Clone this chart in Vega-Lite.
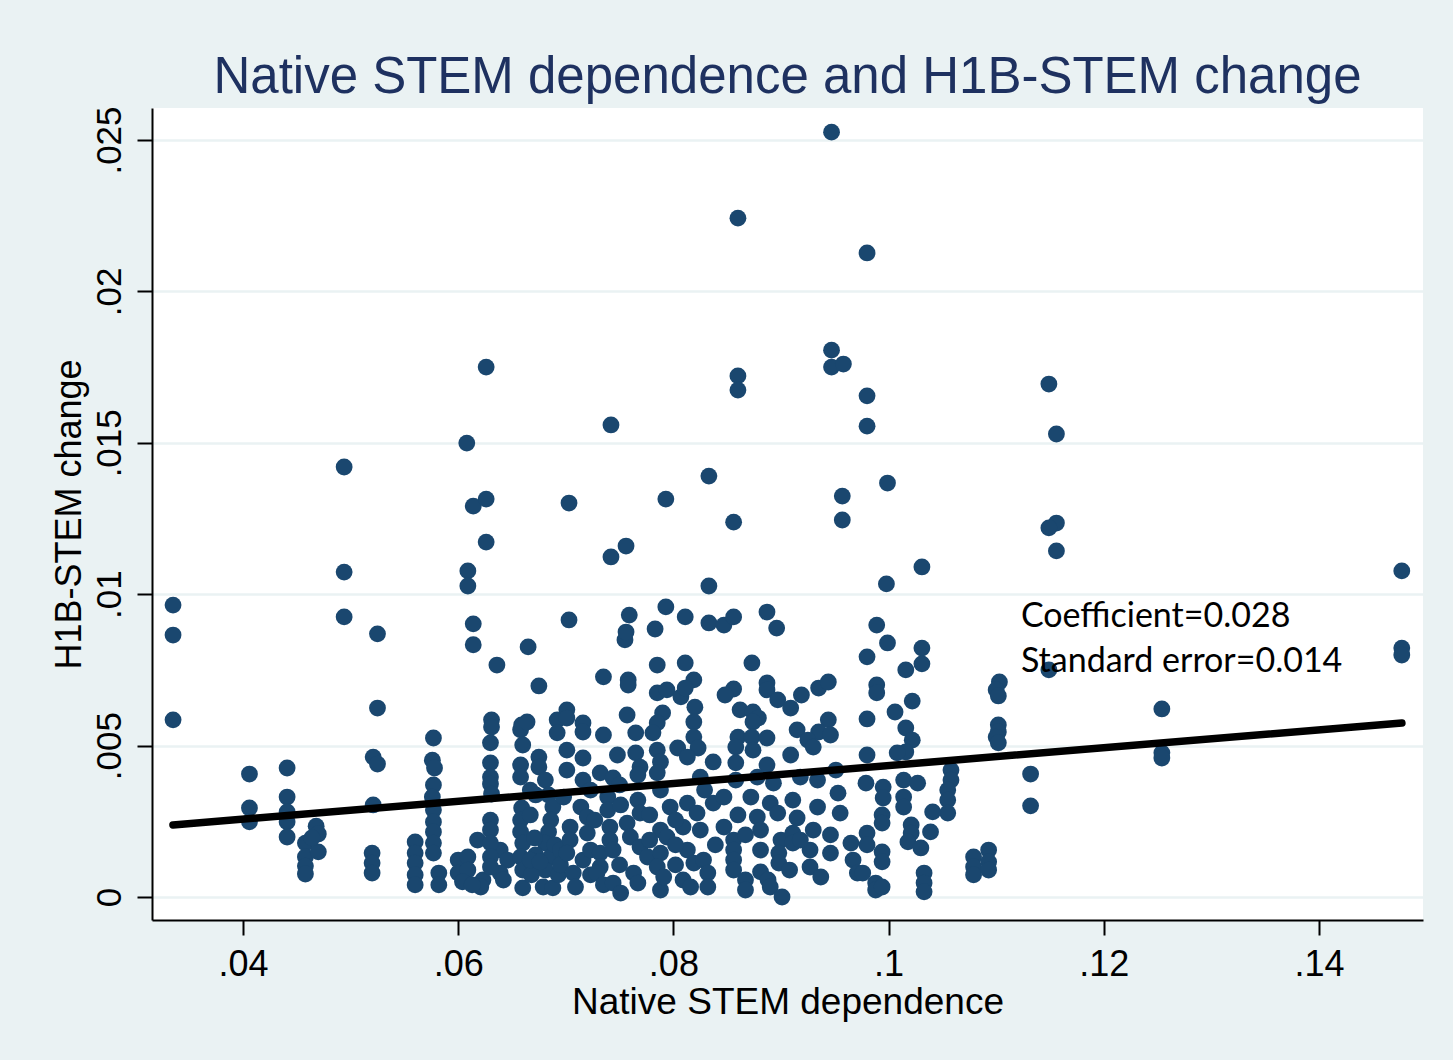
{
  "$schema": "https://vega.github.io/schema/vega-lite/v6.json",
  "autosize": {"type": "none"},
  "padding": {"left": 152, "top": 108, "right": 30, "bottom": 140},
  "width": 1271,
  "height": 812,
  "background": "#EAF2F3",
  "config": {
    "view": {"stroke": null, "fill": "white"},
    "font": "Liberation Sans"
  },
  "title": {
    "text": "Native STEM dependence and H1B-STEM change",
    "fontSize": 51,
    "fontWeight": "normal",
    "color": "#1E3160",
    "anchor": "middle",
    "baseline": "alphabetic",
    "offset": 16,
    "dy": 54
  },
  "datasets": {
    "points": [
      {"x":0.0335,"y":0.00964},{"x":0.0335,"y":0.00865},{"x":0.0335,"y":0.00585},
      {"x":0.0406,"y":0.00406},{"x":0.0406,"y":0.00294},{"x":0.0406,"y":0.00248},
      {"x":0.0441,"y":0.00426},{"x":0.0441,"y":0.0033},{"x":0.0441,"y":0.00281},{"x":0.0441,"y":0.00248},{"x":0.0441,"y":0.00198},
      {"x":0.0458,"y":0.00178},{"x":0.0458,"y":0.00132},{"x":0.0458,"y":0.00102},{"x":0.0458,"y":0.00076},
      {"x":0.0468,"y":0.00234},{"x":0.047,"y":0.00208},{"x":0.047,"y":0.00149},{"x":0.0464,"y":0.00195},
      {"x":0.0494,"y":0.0142},{"x":0.0494,"y":0.01073},{"x":0.0494,"y":0.00925},
      {"x":0.0525,"y":0.00869},{"x":0.0525,"y":0.00624},{"x":0.0521,"y":0.00462},{"x":0.0525,"y":0.00439},{"x":0.0521,"y":0.00304},{"x":0.052,"y":0.00145},{"x":0.052,"y":0.00112},{"x":0.052,"y":0.00079},
      {"x":0.056,"y":0.00182},{"x":0.056,"y":0.00145},{"x":0.056,"y":0.00112},{"x":0.056,"y":0.00073},{"x":0.056,"y":0.0004},
      {"x":0.0577,"y":0.00525},{"x":0.0576,"y":0.00452},{"x":0.0578,"y":0.00426},{"x":0.0577,"y":0.0037},{"x":0.0576,"y":0.0033},{"x":0.0577,"y":0.00287},{"x":0.0577,"y":0.00248},{"x":0.0577,"y":0.00215},{"x":0.0577,"y":0.00178},{"x":0.0577,"y":0.00145},
      {"x":0.0582,"y":0.00079},{"x":0.0582,"y":0.0004},
      {"x":0.0608,"y":0.01499},{"x":0.0609,"y":0.01077},{"x":0.0609,"y":0.01027},{"x":0.0614,"y":0.01291},{"x":0.0626,"y":0.01314},{"x":0.0626,"y":0.01172},{"x":0.0626,"y":0.0175},
      {"x":0.0614,"y":0.00902},{"x":0.0614,"y":0.00833},{"x":0.0636,"y":0.00766},
      {"x":0.06,"y":0.00122},{"x":0.06,"y":0.00079},{"x":0.0618,"y":0.00188},{"x":0.0609,"y":0.00132},{"x":0.0609,"y":0.00089},{"x":0.0623,"y":0.00056},{"x":0.0621,"y":0.00033},
      {"x":0.063,"y":0.00254},{"x":0.063,"y":0.00221},{"x":0.0639,"y":0.00155},{"x":0.0646,"y":0.00122},{"x":0.0639,"y":0.00079},{"x":0.0642,"y":0.00056},
      {"x":0.0631,"y":0.00585},{"x":0.0631,"y":0.00561},{"x":0.063,"y":0.00509},{"x":0.063,"y":0.00443},{"x":0.063,"y":0.00396},{"x":0.063,"y":0.00373},{"x":0.0631,"y":0.0034},
      {"x":0.063,"y":0.00178},{"x":0.063,"y":0.00132},{"x":0.063,"y":0.00099},{"x":0.0604,"y":0.0005},{"x":0.0613,"y":0.0004},
      {"x":0.0665,"y":0.00826},{"x":0.0675,"y":0.00697},{"x":0.0659,"y":0.00568},{"x":0.0658,"y":0.00552},{"x":0.0664,"y":0.00578},{"x":0.066,"y":0.00502},{"x":0.0658,"y":0.00436},{"x":0.0658,"y":0.00396},
      {"x":0.0659,"y":0.00294},{"x":0.0658,"y":0.00254},{"x":0.0658,"y":0.00215},{"x":0.066,"y":0.00178},{"x":0.0658,"y":0.00132},{"x":0.066,"y":0.00089},{"x":0.066,"y":0.0003},
      {"x":0.0675,"y":0.00462},{"x":0.0675,"y":0.00429},{"x":0.0681,"y":0.00386},{"x":0.0684,"y":0.00337},{"x":0.0688,"y":0.00297},{"x":0.0686,"y":0.00254},{"x":0.0684,"y":0.00215},{"x":0.0681,"y":0.00178},{"x":0.0686,"y":0.00132},{"x":0.0681,"y":0.00089},{"x":0.0679,"y":0.00033},{"x":0.0688,"y":0.0003},
      {"x":0.0692,"y":0.00585},{"x":0.0692,"y":0.00542},{"x":0.0672,"y":0.00337},{"x":0.0672,"y":0.00139},{"x":0.0668,"y":0.00073},{"x":0.0693,"y":0.00073},{"x":0.069,"y":0.00172},
      {"x":0.0667,"y":0.00271},{"x":0.0671,"y":0.00195},{"x":0.0667,"y":0.00122},{"x":0.0676,"y":0.00116},{"x":0.0695,"y":0.00155},{"x":0.0695,"y":0.00106},{"x":0.0667,"y":0.00353},
      {"x":0.0701,"y":0.00618},{"x":0.0701,"y":0.00591},{"x":0.0716,"y":0.00575},{"x":0.0716,"y":0.00545},{"x":0.0701,"y":0.00485},{"x":0.0716,"y":0.00459},{"x":0.0701,"y":0.00419},{"x":0.0716,"y":0.00386},
      {"x":0.0698,"y":0.0033},{"x":0.0714,"y":0.00297},{"x":0.072,"y":0.00264},{"x":0.0704,"y":0.00231},{"x":0.0704,"y":0.00188},{"x":0.072,"y":0.00211},{"x":0.0701,"y":0.00145},{"x":0.0716,"y":0.00122},{"x":0.0707,"y":0.00079},{"x":0.0709,"y":0.00033},
      {"x":0.0723,"y":0.00155},{"x":0.0723,"y":0.00073},{"x":0.0727,"y":0.00254},{"x":0.0723,"y":0.00353},
      {"x":0.0703,"y":0.01301},{"x":0.0703,"y":0.00915},{"x":0.0735,"y":0.00727},{"x":0.0755,"y":0.00849},{"x":0.0758,"y":0.00717},{"x":0.0758,"y":0.007},
      {"x":0.0742,"y":0.01559},{"x":0.0742,"y":0.01123},{"x":0.0756,"y":0.01159},{"x":0.0759,"y":0.00931},{"x":0.0756,"y":0.00875},{"x":0.0783,"y":0.00885},{"x":0.0793,"y":0.00958},{"x":0.0811,"y":0.00925},{"x":0.0833,"y":0.00905},
      {"x":0.0793,"y":0.01314},{"x":0.0833,"y":0.0139},{"x":0.0833,"y":0.01027},
      {"x":0.0785,"y":0.00766},{"x":0.0811,"y":0.00773},{"x":0.0819,"y":0.00717},{"x":0.0785,"y":0.00674},{"x":0.0794,"y":0.00684},{"x":0.0807,"y":0.00661},{"x":0.0811,"y":0.0069},
      {"x":0.0757,"y":0.00601},{"x":0.079,"y":0.00608},{"x":0.0785,"y":0.00575},{"x":0.082,"y":0.00627},{"x":0.0819,"y":0.00578},
      {"x":0.0735,"y":0.00535},{"x":0.0765,"y":0.00542},{"x":0.0781,"y":0.00542},{"x":0.0819,"y":0.00528},{"x":0.0823,"y":0.00492},
      {"x":0.0748,"y":0.00469},{"x":0.0765,"y":0.00476},{"x":0.0769,"y":0.00429},{"x":0.0785,"y":0.00485},{"x":0.0788,"y":0.00446},{"x":0.0804,"y":0.00492},{"x":0.0813,"y":0.00462},{"x":0.0837,"y":0.00446},
      {"x":0.0732,"y":0.0041},{"x":0.0744,"y":0.00393},{"x":0.0767,"y":0.00403},{"x":0.0785,"y":0.0041},{"x":0.0825,"y":0.00396},
      {"x":0.0739,"y":0.0033},{"x":0.0739,"y":0.00287},{"x":0.0751,"y":0.00304},{"x":0.0767,"y":0.0032},{"x":0.0769,"y":0.00277},{"x":0.0797,"y":0.00297},{"x":0.0813,"y":0.0031},{"x":0.0822,"y":0.00277},{"x":0.0837,"y":0.0031},
      {"x":0.0741,"y":0.00231},{"x":0.0741,"y":0.00188},{"x":0.0757,"y":0.00244},{"x":0.076,"y":0.00198},{"x":0.0788,"y":0.00221},{"x":0.0794,"y":0.00198},{"x":0.0809,"y":0.00231},
      {"x":0.0732,"y":0.00145},{"x":0.0732,"y":0.00099},{"x":0.0744,"y":0.00155},{"x":0.0769,"y":0.00165},{"x":0.0776,"y":0.00132},{"x":0.0788,"y":0.00145},{"x":0.0785,"y":0.00099},{"x":0.0813,"y":0.00155},{"x":0.0819,"y":0.00112},{"x":0.0828,"y":0.00122},{"x":0.0832,"y":0.00079},
      {"x":0.0729,"y":0.00079},{"x":0.0735,"y":0.0004},{"x":0.0744,"y":0.00046},{"x":0.0751,"y":0.00013},{"x":0.0763,"y":0.00079},{"x":0.0767,"y":0.00046},{"x":0.0788,"y":0.00023},{"x":0.0791,"y":0.00066},{"x":0.0809,"y":0.00056},{"x":0.0816,"y":0.00033},{"x":0.0832,"y":0.00033},
      {"x":0.075,"y":0.00106},{"x":0.0778,"y":0.00271},{"x":0.0778,"y":0.00188},{"x":0.0802,"y":0.00254},{"x":0.0802,"y":0.00172},{"x":0.0802,"y":0.00106},{"x":0.0825,"y":0.00221},{"x":0.0839,"y":0.00172},{"x":0.0788,"y":0.00353},{"x":0.075,"y":0.0037},{"x":0.0829,"y":0.00353},
      {"x":0.086,"y":0.02242},{"x":0.086,"y":0.01721},{"x":0.086,"y":0.01674},{"x":0.0856,"y":0.01238},{"x":0.0847,"y":0.00898},{"x":0.0856,"y":0.00925},{"x":0.0887,"y":0.00941},{"x":0.0896,"y":0.00888},{"x":0.0873,"y":0.00773},
      {"x":0.0856,"y":0.00687},{"x":0.0848,"y":0.00667},{"x":0.0887,"y":0.00707},{"x":0.0887,"y":0.00684},{"x":0.0897,"y":0.00651},{"x":0.0909,"y":0.00624},{"x":0.0919,"y":0.00667},{"x":0.0935,"y":0.0069},{"x":0.0944,"y":0.0071},
      {"x":0.0862,"y":0.00618},{"x":0.0874,"y":0.00611},{"x":0.0879,"y":0.00591},{"x":0.0874,"y":0.00578},{"x":0.0944,"y":0.00585},{"x":0.0935,"y":0.00545},{"x":0.0946,"y":0.00535},{"x":0.0915,"y":0.00552},{"x":0.0925,"y":0.00518},
      {"x":0.086,"y":0.00528},{"x":0.0873,"y":0.00528},{"x":0.0887,"y":0.00525},{"x":0.0858,"y":0.00495},{"x":0.0874,"y":0.00485},{"x":0.093,"y":0.00495},{"x":0.0909,"y":0.00469},
      {"x":0.0858,"y":0.00443},{"x":0.0887,"y":0.00436},{"x":0.0951,"y":0.00419},{"x":0.0858,"y":0.00386},{"x":0.0878,"y":0.00396},{"x":0.0893,"y":0.00376},{"x":0.0918,"y":0.00396},{"x":0.0934,"y":0.00386},{"x":0.0953,"y":0.00343},
      {"x":0.0847,"y":0.0033},{"x":0.0872,"y":0.0033},{"x":0.089,"y":0.0031},{"x":0.0911,"y":0.0032},{"x":0.0934,"y":0.00297},{"x":0.0955,"y":0.00277},
      {"x":0.086,"y":0.00271},{"x":0.0878,"y":0.00264},{"x":0.0897,"y":0.00277},{"x":0.0915,"y":0.00261},{"x":0.0847,"y":0.00231},{"x":0.0881,"y":0.00221},
      {"x":0.0856,"y":0.00188},{"x":0.09,"y":0.00188},{"x":0.0911,"y":0.00211},{"x":0.093,"y":0.00221},{"x":0.0946,"y":0.00205},{"x":0.0965,"y":0.00178},
      {"x":0.0856,"y":0.00155},{"x":0.0898,"y":0.00145},{"x":0.0911,"y":0.00178},{"x":0.0927,"y":0.00155},{"x":0.0946,"y":0.00145},
      {"x":0.0856,"y":0.00122},{"x":0.0898,"y":0.00112},{"x":0.0927,"y":0.00099},{"x":0.0937,"y":0.00066},{"x":0.0967,"y":0.00122},{"x":0.0971,"y":0.00079},
      {"x":0.0856,"y":0.00089},{"x":0.0867,"y":0.00056},{"x":0.0881,"y":0.00083},{"x":0.0888,"y":0.00056},{"x":0.089,"y":0.00033},{"x":0.0901,"y":0.0},{"x":0.0867,"y":0.00023},
      {"x":0.0867,"y":0.00205},{"x":0.0881,"y":0.00155},{"x":0.0908,"y":0.00089},{"x":0.0918,"y":0.00188},
      {"x":0.0947,"y":0.02526},{"x":0.0947,"y":0.01806},{"x":0.0947,"y":0.0175},{"x":0.0958,"y":0.0176},{"x":0.0957,"y":0.01324},{"x":0.0957,"y":0.01245},
      {"x":0.098,"y":0.02127},{"x":0.098,"y":0.01655},{"x":0.098,"y":0.01555},{"x":0.0999,"y":0.01367},{"x":0.0998,"y":0.01034},{"x":0.1031,"y":0.0109},
      {"x":0.0989,"y":0.00898},{"x":0.0999,"y":0.00839},{"x":0.1031,"y":0.00822},{"x":0.1031,"y":0.0077},{"x":0.098,"y":0.00793},{"x":0.1016,"y":0.0075},
      {"x":0.0989,"y":0.007},{"x":0.0989,"y":0.00674},{"x":0.1022,"y":0.00647},{"x":0.1006,"y":0.00611},{"x":0.098,"y":0.00588},{"x":0.1016,"y":0.00558},{"x":0.1022,"y":0.00518},{"x":0.1016,"y":0.00479},{"x":0.098,"y":0.00469},{"x":0.1008,"y":0.00476},
      {"x":0.1058,"y":0.00419},{"x":0.1058,"y":0.00386},{"x":0.0979,"y":0.00376},{"x":0.0995,"y":0.00363},{"x":0.1014,"y":0.00386},{"x":0.1027,"y":0.00376},
      {"x":0.0995,"y":0.00327},{"x":0.1014,"y":0.0033},{"x":0.1014,"y":0.00297},{"x":0.1055,"y":0.00353},{"x":0.1055,"y":0.0032},{"x":0.1055,"y":0.00277},
      {"x":0.0994,"y":0.00271},{"x":0.0994,"y":0.00244},{"x":0.1041,"y":0.00281},{"x":0.1021,"y":0.00238},{"x":0.1021,"y":0.00211},{"x":0.1039,"y":0.00215},{"x":0.1018,"y":0.00182},
      {"x":0.098,"y":0.00211},{"x":0.098,"y":0.00172},{"x":0.0994,"y":0.00149},{"x":0.0994,"y":0.00116},{"x":0.103,"y":0.00162},
      {"x":0.0976,"y":0.00079},{"x":0.0988,"y":0.00046},{"x":0.0988,"y":0.00023},{"x":0.0994,"y":0.00033},{"x":0.1033,"y":0.00079},{"x":0.1033,"y":0.00046},{"x":0.1033,"y":0.00017},
      {"x":0.1079,"y":0.00132},{"x":0.1079,"y":0.00099},{"x":0.1079,"y":0.00073},{"x":0.1093,"y":0.00155},{"x":0.1093,"y":0.00116},{"x":0.1093,"y":0.00089},
      {"x":0.1103,"y":0.0071},{"x":0.11,"y":0.00684},{"x":0.1102,"y":0.00664},{"x":0.1102,"y":0.00568},{"x":0.1102,"y":0.00545},{"x":0.11,"y":0.00528},{"x":0.1102,"y":0.00509},
      {"x":0.1132,"y":0.00406},{"x":0.1132,"y":0.00301},
      {"x":0.1149,"y":0.01694},{"x":0.1156,"y":0.01529},{"x":0.1156,"y":0.01235},{"x":0.1149,"y":0.01219},{"x":0.1156,"y":0.01143},{"x":0.1149,"y":0.0075},
      {"x":0.1254,"y":0.00621},{"x":0.1254,"y":0.00476},{"x":0.1254,"y":0.00459},
      {"x":0.1477,"y":0.01077},{"x":0.1477,"y":0.00822},{"x":0.1477,"y":0.00799}
    ],
    "fit": [
      {"x":0.03349,"y":0.002378},
      {"x":0.14771,"y":0.005746}
    ],
    "notes": [
      {"x":0.1123,"y":0.00892,"label":"Coefficient=0.028"},
      {"x":0.1123,"y":0.00743,"label":"Standard error=0.014"}
    ]
  },
  "layer": [
    {
      "data": {"name": "points"},
      "mark": {"type": "circle", "size": 283, "color": "#1A476F", "opacity": 1},
      "encoding": {
        "x": {
          "field": "x", "type": "quantitative",
          "scale": {"domain": [0.031543, 0.14967], "nice": false, "zero": false},
          "axis": {
            "title": "Native STEM dependence",
            "values": [0.04, 0.06, 0.08, 0.1, 0.12, 0.14],
            "labelExpr": "replace(format(datum.value, '~g'), /^0\\./, '.')",
            "grid": false,
            "domainColor": "#000000", "domainWidth": 2,
            "tickColor": "#000000", "tickWidth": 2, "tickSize": 15,
            "labelFontSize": 36, "labelColor": "#000000",
            "labelBaseline": "alphabetic", "labelPadding": 40, "labelFlush": false,
            "titleFontSize": 37, "titleFontWeight": "normal", "titleColor": "#000000",
            "titleBaseline": "alphabetic", "titleY": 93
          }
        },
        "y": {
          "field": "y", "type": "quantitative",
          "scale": {"domain": [-0.00076, 0.026057], "nice": false, "zero": false},
          "axis": {
            "title": "H1B-STEM change",
            "values": [0, 0.005, 0.01, 0.015, 0.02, 0.025],
            "labelExpr": "datum.value == 0 ? '0' : replace(format(datum.value, '~g'), /^0\\./, '.')",
            "grid": true, "gridColor": "#EAF2F3", "gridWidth": 2.5,
            "domainColor": "#000000", "domainWidth": 2,
            "tickColor": "#000000", "tickWidth": 2, "tickSize": 15,
            "labelFontSize": 35, "labelColor": "#000000",
            "labelAngle": -90, "labelAlign": "center", "labelBaseline": "alphabetic",
            "labelPadding": 17, "labelFlush": false,
            "titleFontSize": 36, "titleFontWeight": "normal", "titleColor": "#000000",
            "titleBaseline": "alphabetic", "titleX": -72
          }
        }
      }
    },
    {
      "data": {"name": "fit"},
      "mark": {"type": "line", "color": "#000000", "strokeWidth": 7.5, "strokeCap": "round"},
      "encoding": {
        "x": {"field": "x", "type": "quantitative"},
        "y": {"field": "y", "type": "quantitative"}
      }
    },
    {
      "data": {"name": "notes"},
      "mark": {"type": "text", "align": "left", "baseline": "alphabetic", "font": "Lato", "fontSize": 34, "color": "#000000"},
      "encoding": {
        "x": {"field": "x", "type": "quantitative"},
        "y": {"field": "y", "type": "quantitative"},
        "text": {"field": "label"}
      }
    }
  ]
}
